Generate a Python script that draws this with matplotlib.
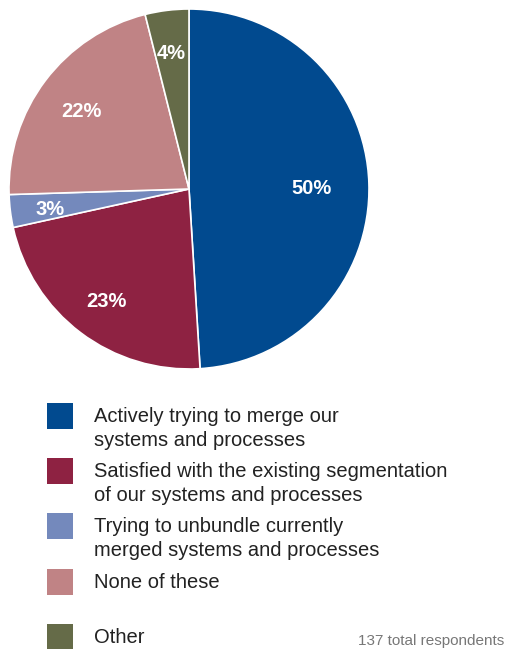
import numpy as np
import matplotlib
matplotlib.use("Agg")
import matplotlib.pyplot as plt
from matplotlib.patches import Rectangle

plt.rcParams['font.family'] = ['Liberation Sans', 'DejaVu Sans']

# Survey answers (percent of respondents)
categories = [
    "Actively trying to merge our\nsystems and processes",
    "Satisfied with the existing segmentation\nof our systems and processes",
    "Trying to unbundle currently\nmerged systems and processes",
    "None of these",
    "Other",
]
shares = [50, 23, 3, 22, 4]
colors = ["#014a8f", "#8e2242", "#7489bc", "#c08385", "#656b48"]
note = "137 total respondents"

W, H = 505, 649
fig = plt.figure(figsize=(W / 100, H / 100), dpi=100)

# pie area: centre (189, 189) px, radius 180 px
ax = fig.add_axes([9 / W, (H - 369) / H, 360 / W, 360 / H])
wedges, _ = ax.pie(shares, colors=colors, startangle=90, counterclock=False,
                   wedgeprops=dict(edgecolor="white", linewidth=1.2))
ax.set_xlim(-1, 1)
ax.set_ylim(-1, 1)
ax.set_aspect("equal")
ax.axis("off")

# percentage labels placed along each wedge's middle angle
label_r = [0.68, 0.76, 0.78, 0.75, 0.78]
for w, v, r in zip(wedges, shares, label_r):
    mid = np.radians((w.theta1 + w.theta2) / 2)
    ax.text(r * np.cos(mid), r * np.sin(mid) - 0.02, f"{v}%", color="white",
            fontsize=14.5, fontweight="bold", ha="center", va="center")

# legend drawn by hand so the gap before "Other" is kept
box_tops = [403, 458, 513, 569, 624]
for top, c, lab in zip(box_tops, colors, categories):
    fig.add_artist(Rectangle((47 / W, (H - top - 26) / H), 26 / W, 26 / H,
                             transform=fig.transFigure, facecolor=c,
                             edgecolor="none"))
    for i, line in enumerate(lab.split("\n")):
        base = top + 19 + i * 24
        fig.text(94 / W, (H - base) / H, line, fontsize=14.5,
                 color="#222222", ha="left", va="baseline")

fig.text(504 / W, (H - 645) / H, note, fontsize=11, color="#777777",
         ha="right", va="baseline")

fig.savefig("out.png", dpi=100, facecolor="white")
